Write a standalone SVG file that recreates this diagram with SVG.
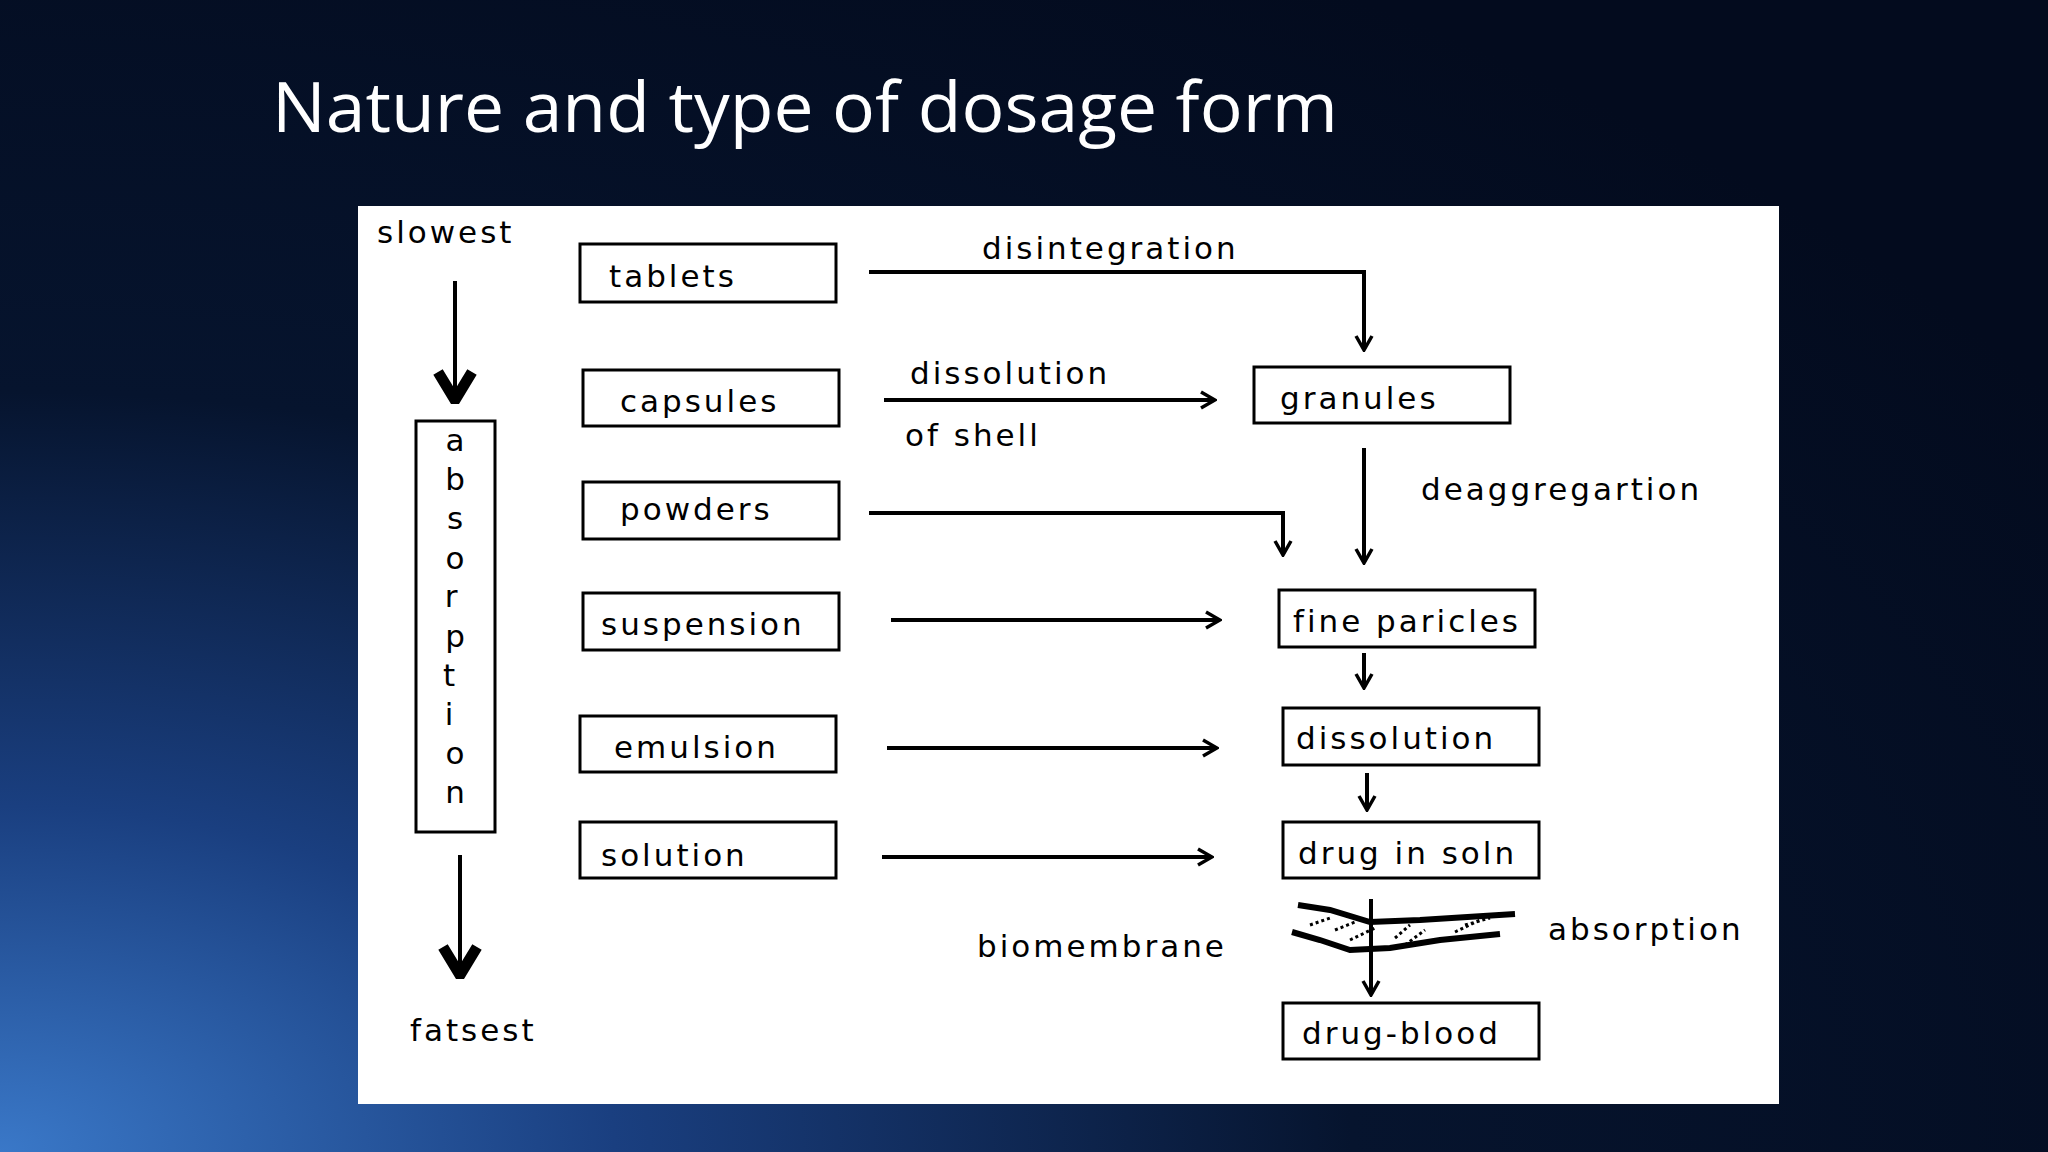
<svg xmlns="http://www.w3.org/2000/svg" width="2048" height="1152" viewBox="0 0 2048 1152">
<defs>
<radialGradient id="bg" cx="0" cy="1" r="1.2">
<stop offset="0" stop-color="#3a78c8"/>
<stop offset="0.25" stop-color="#1a3f80"/>
<stop offset="0.55" stop-color="#06142e"/>
<stop offset="1" stop-color="#030b1e"/>
</radialGradient>
<marker id="oa" viewBox="0 0 20 20" refX="18" refY="10" markerWidth="20" markerHeight="20" markerUnits="userSpaceOnUse" orient="auto"><path d="M4,2 L18,10 L4,18" fill="none" stroke="#000" stroke-width="3.5"/></marker>
<marker id="ta" viewBox="0 0 40 40" refX="36" refY="20" markerWidth="40" markerHeight="44" markerUnits="userSpaceOnUse" orient="auto"><path d="M8,3 L36,20 L8,37" fill="none" stroke="#000" stroke-width="11"/></marker>
</defs>
<style>
.t{font-family:"DejaVu Sans",Verdana,sans-serif;font-size:31px;letter-spacing:3px;fill:#000}
.b{fill:#fff;stroke:#000;stroke-width:3}
.c{fill:none;stroke:#000;stroke-width:4}
</style>
<rect width="2048" height="1152" fill="url(#bg)"/>
<text x="272" y="132" font-family="Open Sans,Noto Sans,sans-serif" font-size="70" fill="#fff" textLength="1066" lengthAdjust="spacingAndGlyphs">Nature and type of dosage form</text>
<rect x="358" y="206" width="1421" height="898" fill="#fff"/>
<g id="speed">
<text class="t" x="377" y="243">slowest</text>
<text class="t" x="410" y="1041">fatsest</text>
<path class="c" d="M455,281 L455,400" stroke-width="11" marker-end="url(#ta)"/>
<path class="c" d="M460,855 L460,975" stroke-width="11" marker-end="url(#ta)"/>
</g>
<g id="absorption-box">
<rect class="b" x="416" y="421" width="79" height="411"/>
<g class="t" text-anchor="middle" style="letter-spacing:0">
<text x="455" y="451">a</text><text x="455" y="490">b</text><text x="455" y="529">s</text><text x="455" y="569">o</text><text x="451" y="607">r</text><text x="455" y="647">p</text><text x="449" y="686">t</text><text x="449" y="725">i</text><text x="455" y="764">o</text><text x="455" y="803">n</text>
</g>
</g>
<g id="tablets"><rect class="b" x="580" y="244" width="256" height="58"/><text class="t" x="609" y="287">tablets</text></g>
<g id="capsules"><rect class="b" x="583" y="370" width="256" height="56"/><text class="t" x="620" y="412">capsules</text></g>
<g id="powders"><rect class="b" x="583" y="482" width="256" height="57"/><text class="t" x="620" y="520">powders</text></g>
<g id="suspension"><rect class="b" x="583" y="593" width="256" height="57"/><text class="t" x="601" y="635">suspension</text></g>
<g id="emulsion"><rect class="b" x="580" y="716" width="256" height="56"/><text class="t" x="614" y="758">emulsion</text></g>
<g id="solution"><rect class="b" x="580" y="822" width="256" height="56"/><text class="t" x="601" y="866">solution</text></g>
<g id="granules"><rect class="b" x="1254" y="367" width="256" height="56"/><text class="t" x="1280" y="409">granules</text></g>
<g id="fine"><rect class="b" x="1279" y="590" width="256" height="57"/><text class="t" x="1293" y="632">fine paricles</text></g>
<g id="dissolution"><rect class="b" x="1283" y="708" width="256" height="57"/><text class="t" x="1296" y="749">dissolution</text></g>
<g id="druginsoln"><rect class="b" x="1283" y="822" width="256" height="56"/><text class="t" x="1298" y="864">drug in soln</text></g>
<g id="drugblood"><rect class="b" x="1283" y="1003" width="256" height="56"/><text class="t" x="1302" y="1044">drug-blood</text></g>
<g id="labels">
<text class="t" x="982" y="259">disintegration</text>
<text class="t" x="910" y="384">dissolution</text>
<text class="t" x="905" y="446">of shell</text>
<text class="t" x="1421" y="500">deaggregartion</text>
<text class="t" x="977" y="957">biomembrane</text>
<text class="t" x="1548" y="940">absorption</text>
</g>
<g id="membrane" fill="none" stroke="#000">
<path d="M1298,905 L1330,910 L1370,922 L1420,920 L1515,914" stroke-width="6"/>
<path d="M1292,932 L1320,940 L1350,950 L1390,948 L1440,940 L1500,934" stroke-width="6"/>
<g stroke-width="3" stroke-dasharray="3 3">
<path d="M1310,925 L1330,918 M1335,930 L1355,922 M1350,940 L1375,928 M1395,938 L1410,925 M1405,945 L1425,930 M1455,932 L1480,920 M1465,925 L1490,918"/>
</g>
</g>
<g id="connectors" class="c">
<path d="M869,272 L1364,272 L1364,350" marker-end="url(#oa)"/>
<path d="M884,400 L1215,400" marker-end="url(#oa)"/>
<path d="M869,513 L1283,513 L1283,555" marker-end="url(#oa)"/>
<path d="M1364,448 L1364,563" marker-end="url(#oa)"/>
<path d="M891,620 L1220,620" marker-end="url(#oa)"/>
<path d="M887,748 L1217,748" marker-end="url(#oa)"/>
<path d="M882,857 L1212,857" marker-end="url(#oa)"/>
<path d="M1364,653 L1364,688" marker-end="url(#oa)"/>
<path d="M1367,773 L1367,810" marker-end="url(#oa)"/>
<path d="M1371,899 L1371,995" marker-end="url(#oa)"/>
</g>
</svg>
